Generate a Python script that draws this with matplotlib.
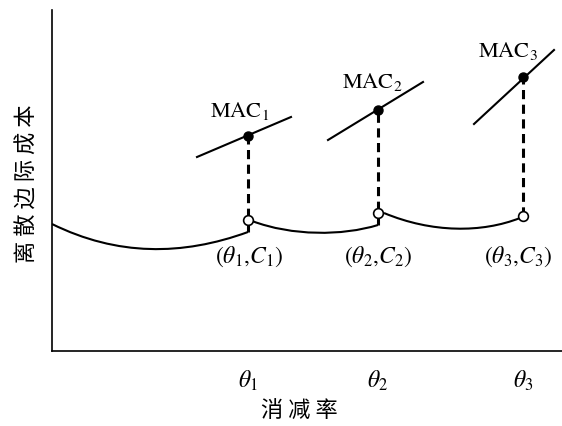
import matplotlib
matplotlib.use("Agg")
import matplotlib.pyplot as plt
from matplotlib.path import Path
from matplotlib.patches import PathPatch

plt.rcParams['font.family'] = ['Liberation Serif', 'Noto Sans CJK SC']
plt.rcParams['mathtext.fontset'] = 'stix'

# abatement levels (theta_1..3) on the x axis
theta = [196, 326, 471]
tick_labels = [r'$\theta_1$', r'$\theta_2$', r'$\theta_3$']

# discrete marginal cost curve, three segments (start, two bezier handles, end)
seg1 = [(0, 127), (65, 95), (130, 95), (196, 119)]
seg2 = [(200, 130), (240, 115), (290, 115), (326, 126)]
seg3 = [(332, 138), (380, 118), (430, 118), (468, 133)]

# open circles (theta_i, C_i) and bottoms of the jumps
open_y = [131, 138, 135]
jump_bottom = [119, 126, 135]

# MAC lines: start/end points and filled dots
mac_x0 = [145, 276, 422]
mac_y0 = [194, 211, 227]
mac_x1 = [239, 371, 502]
mac_y1 = [234, 269, 301]
dot_y = [215, 241, 274]
mac_labels = [r'$\mathrm{MAC}_1$', r'$\mathrm{MAC}_2$', r'$\mathrm{MAC}_3$']
mac_lx = [188, 320, 456]
mac_ly = [234, 263, 294]
pt_labels = [r'$(\theta_1{,}C_1)$', r'$(\theta_2{,}C_2)$', r'$(\theta_3{,}C_3)$']
pt_lx = [197, 326, 466]

fig = plt.figure(figsize=(5.62, 4.26), dpi=100)
ax = fig.add_axes([52/562, 75/426, 510/562, 341/426])

codes = [Path.MOVETO, Path.CURVE4, Path.CURVE4, Path.CURVE4]
for seg in [seg1, seg2, seg3]:
    ax.add_patch(PathPatch(Path(seg, codes), fill=False, edgecolor='black', lw=1.5))

for i in range(3):
    ax.plot([theta[i], theta[i]], [jump_bottom[i], dot_y[i]], color='black',
            lw=2.2, dashes=(3, 1.8))
    ax.plot([mac_x0[i], mac_x1[i]], [mac_y0[i], mac_y1[i]], color='black', lw=1.5)
    ax.plot(theta[i], dot_y[i], 'o', color='black', ms=6.5)
    ax.plot(theta[i], open_y[i], 'o', mfc='white', mec='black', mew=1.2, ms=7)
    ax.text(mac_lx[i], mac_ly[i], mac_labels[i], ha='center', va='baseline', fontsize=16)
    ax.text(pt_lx[i], 94, pt_labels[i], ha='center', va='center', fontsize=17)

ax.set_xlim(0, 510)
ax.set_ylim(0, 341)
ax.spines['top'].set_visible(False)
ax.spines['right'].set_visible(False)
ax.spines['left'].set_linewidth(1.2)
ax.spines['bottom'].set_linewidth(1.2)
ax.set_xticks(theta)
ax.set_xticklabels(tick_labels, fontsize=17)
ax.set_yticks([])
ax.tick_params(axis='x', length=0, pad=13)

ax.set_xlabel('消 减 率', family=['Noto Sans CJK SC'], fontsize=16)
ax.xaxis.set_label_coords(0.486, -0.142)
ax.set_ylabel('离 散 边 际 成 本', family=['Noto Sans CJK SC'], fontsize=16)
ax.yaxis.set_label_coords(-0.027, 0.491)

fig.savefig('out.png', dpi=100)
